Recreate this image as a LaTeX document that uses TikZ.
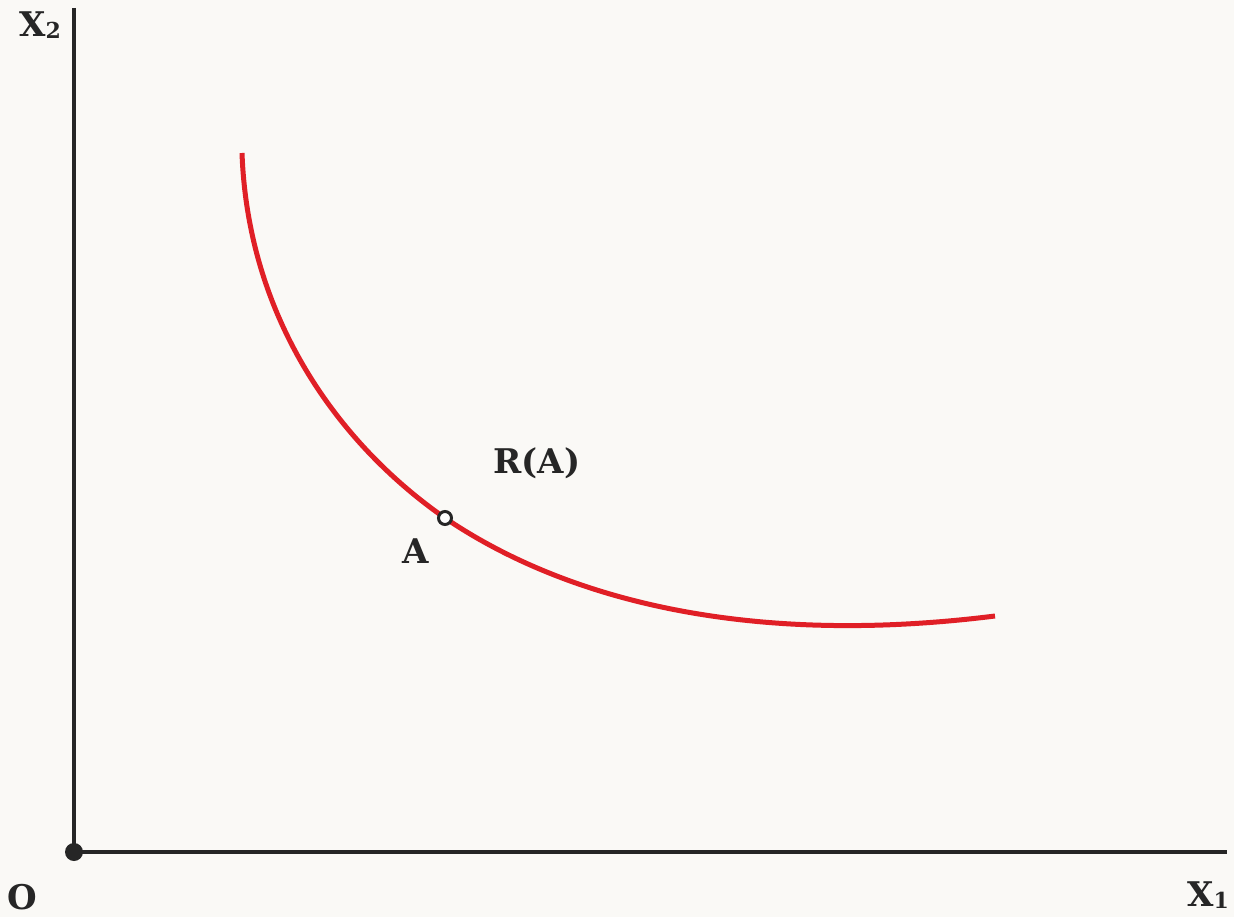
\documentclass[tikz,border=0pt]{standalone}
\usepackage{fontspec}
\setmainfont{DejaVu Serif}
\newcommand{\subdig}[1]{\raisebox{-0.08em}{\fontsize{22}{22}\selectfont #1}}
\begin{document}
\begin{tikzpicture}[x=1pt,y=-1pt,
  axis/.style={line width=4pt,draw=black!85},
  curve/.style={line width=5pt,draw=redc},
  lbl/.style={font=\bfseries\fontsize{34}{36}\selectfont,text=black!85,inner sep=0pt}]
\definecolor{redc}{HTML}{E01F26}
\definecolor{bgc}{HTML}{FAF9F6}
\fill[bgc] (0,0) rectangle (1234,917);
\useasboundingbox (0,0) rectangle (1234,917);
\coordinate (O) at (74,852);
\coordinate (ytop) at (74,8);
\coordinate (xend) at (1227,852);
\coordinate (c0) at (242,153);
\coordinate (c2) at (995,616);
\draw[axis] (ytop) -- (O) -- (xend);
\fill[black!85] (O) circle (9);
\node[circle,minimum size=13pt,inner sep=0pt] (A) at (445,518) {};
\draw[curve] (c0) .. controls (248,320) and (340,445) .. (A.center)
  .. controls (560,596) and (740,648) .. (c2);
\node[circle,draw=black!85,fill=white,line width=3pt,minimum size=13pt,inner sep=0pt] at (A) {};
\node[lbl] (lA) at (416,551) {A};
\node[lbl] (lRA) at (537,463) {R(A)};
\node[lbl] (lX2) at (40,25) {X\subdig{2}};
\node[lbl] (lO) at (22,897) {O};
\node[lbl,anchor=east] (lX1) at (1229,895) {X\subdig{1}};
\end{tikzpicture}
\end{document}
